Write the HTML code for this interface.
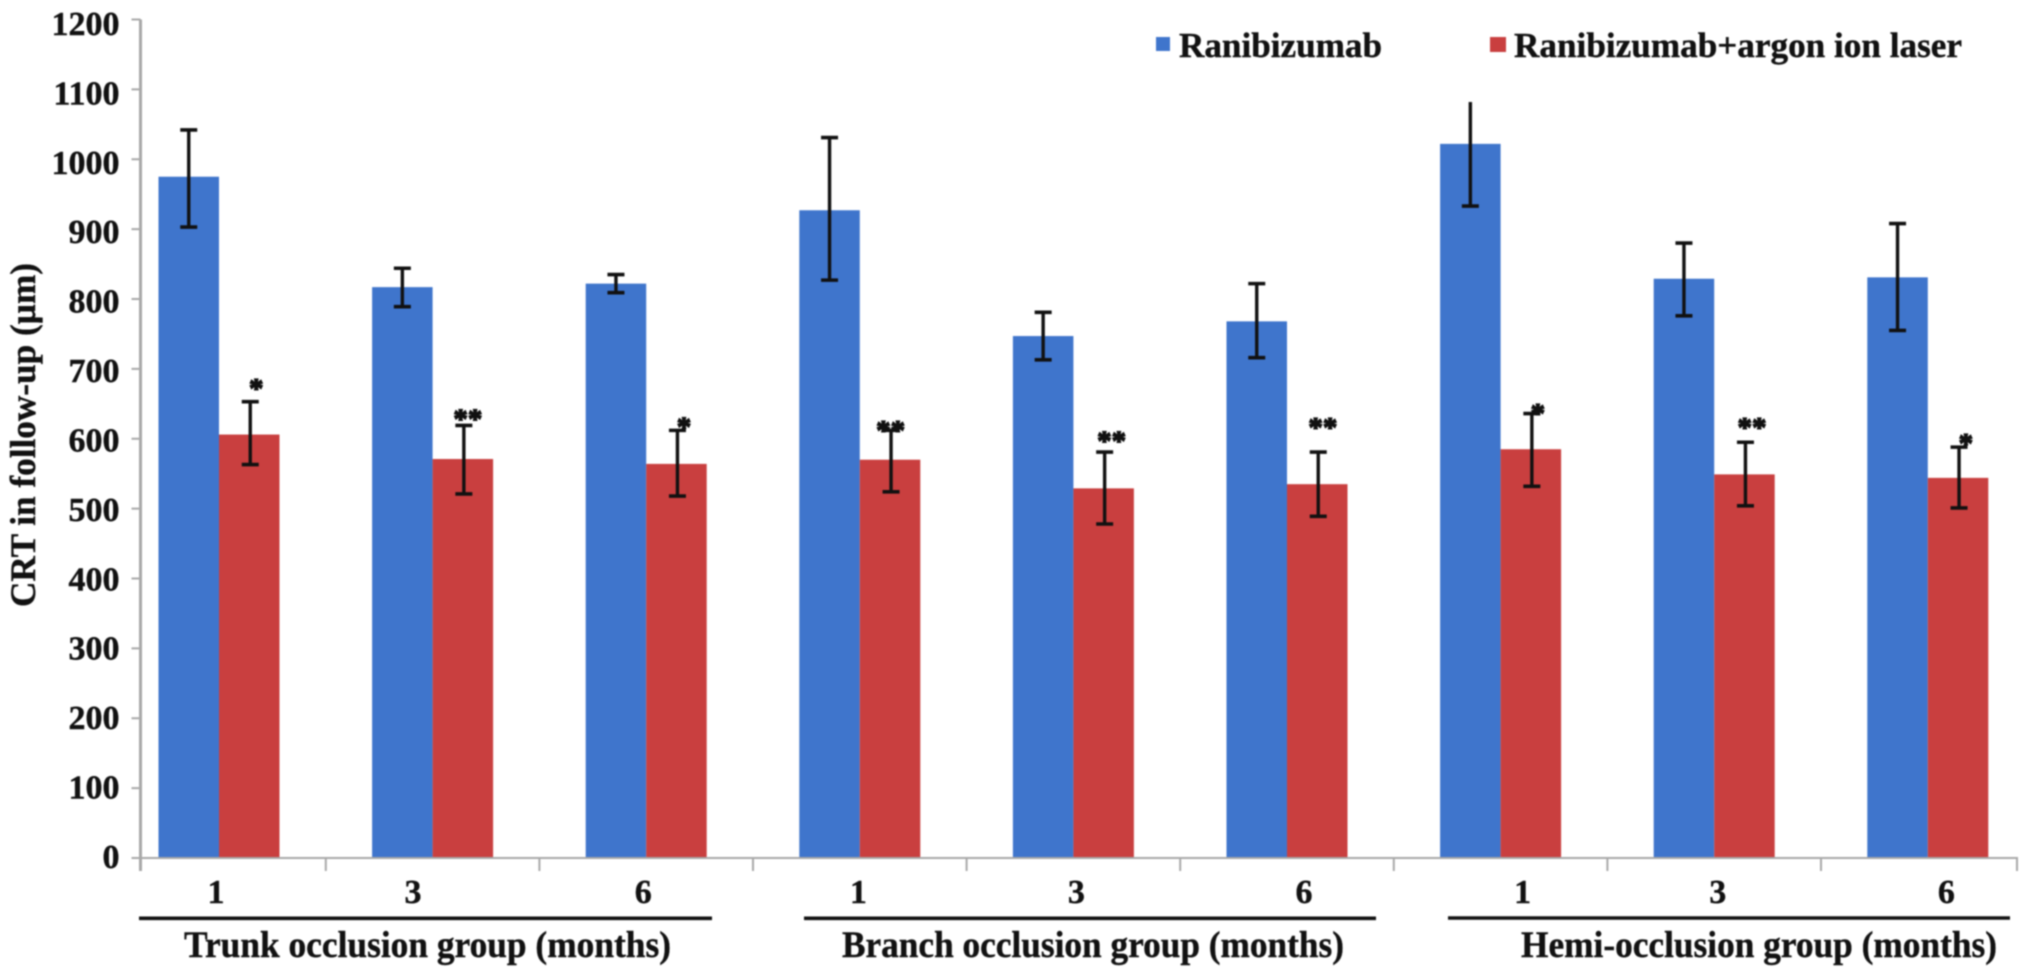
<!DOCTYPE html>
<html lang="en">
<head>
<meta charset="utf-8">
<title>CRT in follow-up</title>
<style>
  html, body { margin: 0; padding: 0; background: #fff; }
  body { width: 2031px; height: 977px; overflow: hidden; }
  svg { display: block; filter: blur(0.7px); }
  text { font-family: "Liberation Serif", "DejaVu Serif", serif; font-weight: bold; fill: #111; stroke: #111; stroke-width: 0.4px; }
</style>
</head>
<body>
<svg id="chart" xmlns="http://www.w3.org/2000/svg" width="2031" height="977" viewBox="0 0 2031 977">
  <rect x="0" y="0" width="2031" height="977" fill="#fff"/>
  <text x="0" y="0" transform="translate(35 607) rotate(-90)" font-size="36" textLength="344" lengthAdjust="spacingAndGlyphs">CRT in follow-up (µm)</text>

  <rect x="1156" y="37" width="14" height="14" fill="#3f75cc"/>
  <text x="1179" y="57" font-size="35" textLength="203" lengthAdjust="spacingAndGlyphs">Ranibizumab</text>
  <rect x="1490" y="37" width="16" height="15" fill="#c93f3f"/>
  <text x="1514" y="57" font-size="35" textLength="448" lengthAdjust="spacingAndGlyphs">Ranibizumab+argon ion laser</text>

  <line x1="139" y1="918.3" x2="712" y2="918.3" stroke="#111" stroke-width="3.6"/>
  <line x1="804" y1="918.3" x2="1376" y2="918.3" stroke="#111" stroke-width="3.6"/>
  <line x1="1448" y1="918" x2="2010" y2="918" stroke="#111" stroke-width="3.6"/>
  <text x="184" y="957" font-size="37" textLength="487" lengthAdjust="spacingAndGlyphs">Trunk occlusion group (months)</text>
  <text x="842" y="957" font-size="37" textLength="502" lengthAdjust="spacingAndGlyphs">Branch occlusion group (months)</text>
  <text x="1521" y="957" font-size="37" textLength="476" lengthAdjust="spacingAndGlyphs">Hemi-occlusion group (months)</text>
  <g id="marks"></g>
</svg>
<script>
const months = ['1', '3', '6', '1', '3', '6', '1', '3', '6'];
const groups = ['trunk', 'trunk', 'trunk', 'branch', 'branch', 'branch', 'hemi', 'hemi', 'hemi'];
const yTicks = [0, 100, 200, 300, 400, 500, 600, 700, 800, 900, 1000, 1100, 1200];

const ranibizumab = [975, 817, 822, 927, 747, 768, 1022, 829, 831];
const ranibizumabHigh = [1042, 844, 835, 1031, 781, 822, 1082, 880, 908];
const ranibizumabLow = [903, 789, 809, 827, 713, 716, 933, 776, 755];

const combination = [606, 571, 564, 570, 529, 535, 585, 549, 544];
const combinationHigh = [653, 619, 612, 612, 581, 581, 636, 595, 588];
const combinationLow = [563, 521, 518, 524, 478, 489, 532, 504, 501];

const significance = ['*', '**', '*', '**', '**', '**', '*', '**', '*'];
const significanceLevel = [677, 633, 622, 617, 602, 621, 641, 621, 598];

const svgNS = 'http://www.w3.org/2000/svg';
const root = document.getElementById('marks');

function yScale(v) { return 858 - v * 0.69875; }
function bandCentre(i) { return 219 + i * 213.6; }
function labelBaseline(v) { return 868 - v * 0.6942; }

const xAxisLeft = 140.5;
const xAxisRight = 2017;
const barWidth = 60.5;
const capHalf = 8.5;
const clipValue = 1080;
const monthLabelNudge = [-3, -19.6, -3, -1.4, 3, 17, 22, 3.6, 18.6];
const starNudge = [7, 5, 7.5, 0.6, 8, 5.6, 7, 7.6, 7.8];

function make(tag, attrs, text) {
  const el = document.createElementNS(svgNS, tag);
  for (const k in attrs) el.setAttribute(k, attrs[k]);
  if (text !== undefined) el.textContent = text;
  root.appendChild(el);
  return el;
}

function drawError(cx, hi, lo, name) {
  const top = make('line', { x1: cx, x2: cx, y1: yScale(hi), y2: yScale(lo), stroke: '#111', 'stroke-width': 3.4 });
  
  
  if (hi <= clipValue) {
    const capHi = make('line', { x1: cx - capHalf, x2: cx + capHalf, y1: yScale(hi), y2: yScale(hi), stroke: '#111', 'stroke-width': 3.6 });
    
    
  }
  const capLo = make('line', { x1: cx - capHalf, x2: cx + capHalf, y1: yScale(lo), y2: yScale(lo), stroke: '#111', 'stroke-width': 3.6 });
  
  
}

// bars first
months.forEach(function (m, i) {
  const c = bandCentre(i);
  const b = make('rect', { x: c - barWidth, y: yScale(ranibizumab[i]), width: barWidth, height: yScale(0) - yScale(ranibizumab[i]), fill: '#3f75cc' });
  
  
  const r = make('rect', { x: c, y: yScale(combination[i]), width: barWidth, height: yScale(0) - yScale(combination[i]), fill: '#c93f3f' });
  
  
});

// axes
const yAxis = make('line', { x1: xAxisLeft, x2: xAxisLeft, y1: yScale(1200), y2: yScale(0) + 13, stroke: '#a8a8a8', 'stroke-width': 3 });


const xAxis = make('line', { x1: xAxisLeft - 9, x2: xAxisRight + 1, y1: yScale(0), y2: yScale(0), stroke: '#a8a8a8', 'stroke-width': 2 });



yTicks.forEach(function (v) {
  const t = make('line', { x1: xAxisLeft - 9, x2: xAxisLeft, y1: yScale(v), y2: yScale(v), stroke: '#a8a8a8', 'stroke-width': 2 });
  
  
  const l = make('text', { x: 119.5, y: labelBaseline(v), 'text-anchor': 'end', 'font-size': 34 }, String(v));
  
  
});

months.forEach(function (m, i) {
  if (i < months.length - 1) {
    const bx = bandCentre(i) + 213.6 / 2;
    const t = make('line', { x1: bx, x2: bx, y1: yScale(0), y2: yScale(0) + 13, stroke: '#a8a8a8', 'stroke-width': 2 });
    
    
  }
  const l = make('text', { x: bandCentre(i) + monthLabelNudge[i], y: 903, 'text-anchor': 'middle', 'font-size': 34 }, m);
  
  
});
const endTick = make('line', { x1: xAxisRight, x2: xAxisRight, y1: yScale(0), y2: yScale(0) + 13, stroke: '#a8a8a8', 'stroke-width': 2 });



// error bars and significance stars
months.forEach(function (m, i) {
  const c = bandCentre(i);
  drawError(c - barWidth / 2, ranibizumabHigh[i], ranibizumabLow[i], 'ranibizumab-' + groups[i] + '-' + m);
  drawError(c + barWidth / 2 + 1, combinationHigh[i], combinationLow[i], 'combination-' + groups[i] + '-' + m);
  const s = make('text', { x: c + barWidth / 2 + starNudge[i], y: yScale(significanceLevel[i]) + 13, 'text-anchor': 'middle', 'font-size': 29, style: 'stroke-width:1.3px' }, significance[i]);
  
  
});
</script>
</body>
</html>
